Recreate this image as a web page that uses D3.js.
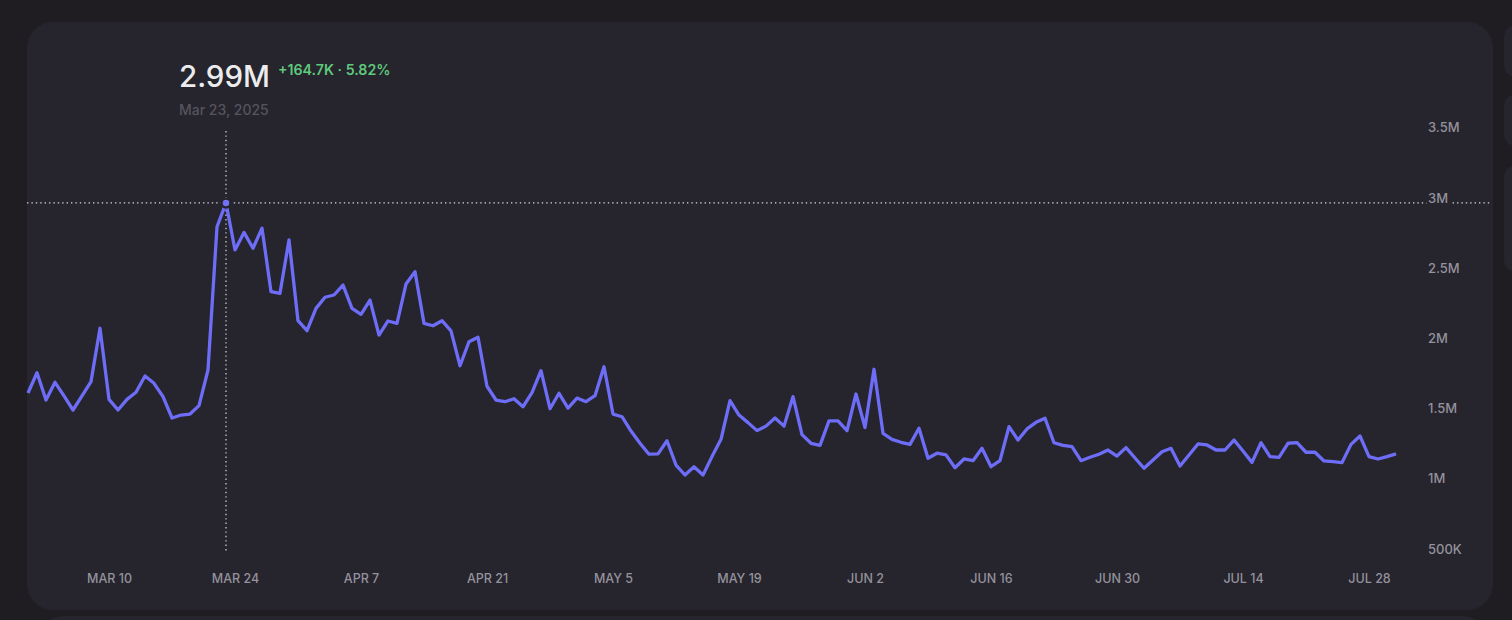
<!DOCTYPE html>
<html>
<head>
<meta charset="utf-8">
<script src="https://cdn.jsdelivr.net/npm/d3@7"></script>
<style>
  html, body { margin: 0; padding: 0; background: #1f1d22; }
  svg { display: block; font-family: Inter, "Noto Sans", sans-serif; }
</style>
</head>
<body>
<div id="viz"></div>
<script>
// daily values, Mar 1 – Jul 31 2025, in millions
const startDate = "2025-03-01";
const values = [
  // Mar
  1.636, 1.78, 1.586, 1.712, 1.615, 1.515, 1.615, 1.717, 2.097, 1.591,
  1.515, 1.591, 1.641, 1.757, 1.705, 1.61, 1.458, 1.479, 1.486, 1.546,
  1.80, 2.82, 2.99, 2.655, 2.78, 2.667, 2.81, 2.358, 2.346, 2.726, 2.151,
  // Apr
  2.08, 2.239, 2.318, 2.334, 2.405, 2.239, 2.196, 2.298, 2.049, 2.149,
  2.132, 2.412, 2.50, 2.132, 2.115, 2.151, 2.078, 1.83, 2.001, 2.033,
  1.684, 1.586, 1.574, 1.595, 1.538, 1.638, 1.795, 1.524, 1.634, 1.529,
  // May
  1.60, 1.574, 1.617, 1.823, 1.486, 1.467, 1.365, 1.278, 1.20, 1.202,
  1.296, 1.123, 1.052, 1.111, 1.052, 1.183, 1.306, 1.581, 1.479, 1.425,
  1.368, 1.40, 1.458, 1.40, 1.61, 1.34, 1.278, 1.263, 1.437, 1.437, 1.368,
  // Jun
  1.629, 1.39, 1.805, 1.349, 1.306, 1.285, 1.27, 1.385, 1.171, 1.207,
  1.195, 1.104, 1.166, 1.154, 1.242, 1.111, 1.154, 1.396, 1.301, 1.38,
  1.427, 1.456, 1.282, 1.263, 1.254, 1.154, 1.178, 1.20, 1.23, 1.187,
  // Jul
  1.247, 1.173, 1.10, 1.159, 1.218, 1.242, 1.116, 1.195, 1.273, 1.266,
  1.23, 1.23, 1.301, 1.223, 1.142, 1.282, 1.183, 1.178, 1.278, 1.282,
  1.214, 1.214, 1.152, 1.147, 1.14, 1.27, 1.33, 1.183, 1.166, 1.183, 1.202
];

const xTickDates = ["2025-03-10", "2025-03-24", "2025-04-07", "2025-04-21", "2025-05-05",
  "2025-05-19", "2025-06-02", "2025-06-16", "2025-06-30", "2025-07-14", "2025-07-28"];
const yTicks = [0.5, 1, 1.5, 2, 2.5, 3, 3.5];

const hover = { date: "2025-03-23", value: 2.99, label: "2.99M", change: "+164.7K · 5.82%", dateLabel: "Mar 23, 2025" };

const width = 1512, height = 620;
const parse = d3.utcParse("%Y-%m-%d");
const t0 = parse(startDate);
const data = values.map((v, i) => ({ date: d3.utcDay.offset(t0, i), value: v }));

const svg = d3.select("#viz").append("svg")
    .attr("width", width)
    .attr("height", height);

// card + side panels
svg.append("rect").attr("x", 27).attr("y", 22).attr("width", 1466).attr("height", 588)
    .attr("rx", 26).attr("fill", "#26242d");
svg.append("rect").attr("x", 43).attr("y", 616).attr("width", 1440).attr("height", 40)
    .attr("rx", 20).attr("fill", "#26242d");
[[25, 52], [94, 52], [165, 107]].forEach(p => {
  svg.append("rect").attr("x", 1504).attr("y", p[0]).attr("width", 60).attr("height", p[1])
      .attr("rx", 12).attr("fill", "#26242d");
});

const x = d3.scaleUtc()
    .domain(d3.extent(data, d => d.date))
    .range([28, 1396]);

const y = d3.scaleLinear()
    .domain([0.5, 3.5])
    .range([552.5, 131.3]);

// x axis
const xAxis = svg.append("g")
    .attr("transform", "translate(0,579)")
    .call(d3.axisBottom(x).tickValues(xTickDates.map(parse)).tickSize(0)
      .tickFormat(d => d3.utcFormat("%b %-d")(d).toUpperCase()));
xAxis.select(".domain").remove();
xAxis.selectAll("text")
    .attr("y", 0).attr("dy", "0.35em")
    .attr("fill", "#94929c").style("font-size", "12.5px").style("font-weight", 500)
    .style("font-family", "Inter, sans-serif");

// hover guides
const hx = x(parse(hover.date)), hy = y(hover.value);
svg.append("line")
    .attr("x1", 27).attr("x2", 1490).attr("y1", hy).attr("y2", hy)
    .attr("stroke", "#d6d5da").attr("stroke-width", 1.2).attr("stroke-dasharray", "1.4,3");
svg.append("line")
    .attr("x1", hx).attr("x2", hx).attr("y1", 131).attr("y2", 553)
    .attr("stroke", "#d6d5da").attr("stroke-width", 1.2).attr("stroke-dasharray", "1.4,3");

// y axis
const yAxis = svg.append("g")
    .attr("transform", "translate(1428,0)")
    .call(d3.axisRight(y).tickValues(yTicks).tickSize(0)
      .tickFormat(d => d < 1 ? (d * 1000) + "K" : d + "M"));
yAxis.select(".domain").remove();
yAxis.selectAll("text")
    .attr("x", 0).attr("dy", "0.05em")
    .attr("fill", "#94929c").style("font-size", "13px").style("font-weight", 500)
    .style("font-family", "Inter, sans-serif")
    .attr("stroke", "#26242d").attr("stroke-width", 6).attr("paint-order", "stroke");

// line
svg.append("path")
    .datum(data)
    .attr("fill", "none")
    .attr("stroke", "#6d6df7")
    .attr("stroke-width", 3.3)
    .attr("stroke-linejoin", "round")
    .attr("d", d3.line().x(d => x(d.date)).y(d => y(d.value)));

svg.append("circle")
    .attr("cx", hx).attr("cy", hy).attr("r", 4.5)
    .attr("fill", "#7373f7").attr("stroke", "#26242d").attr("stroke-width", 2.5);

// header
svg.append("text").attr("x", 179).attr("y", 87).text(hover.label)
    .attr("fill", "#ececee").style("font-size", "29.5px").style("font-weight", 500);
svg.append("text").attr("x", 278).attr("y", 75).text(hover.change)
    .attr("fill", "#5fca7c").style("font-size", "14.2px").style("font-weight", 600);
svg.append("text").attr("x", 179).attr("y", 115).text(hover.dateLabel)
    .attr("fill", "#56545d").style("font-size", "14px").style("font-weight", 500);
</script>
</body>
</html>
